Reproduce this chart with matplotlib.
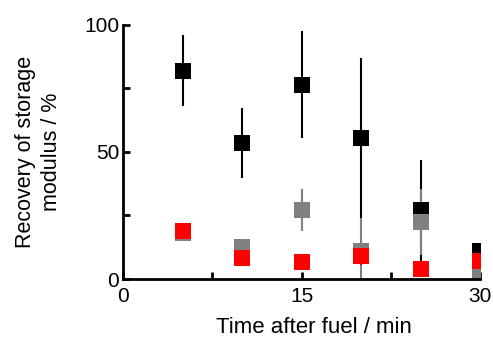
import numpy as np
import matplotlib
matplotlib.use("Agg")
import matplotlib.pyplot as plt
from matplotlib.ticker import MultipleLocator

plt.rcParams['font.family'] = ['Liberation Sans', 'DejaVu Sans']

time = [5, 10, 15, 20, 25, 30]

black_y = [82, 53.5, 76.5, 55.5, 27, 11]
black_err = [14, 13.7, 21, 31.5, 20, 0]

gray_y = [18, 12.5, 27, 11, 22.5, 1.5]
gray_err = [0, 0, 8.3, 13, 13, 0]

red_y = [19, 8.3, 6.8, 9, 4, 7]
red_err = [1.5, 0, 0, 3.5, 0, 0]

fig = plt.figure(figsize=(4.93, 3.55), dpi=100)
ax = fig.add_axes([0.25, 0.214, 0.724, 0.716])

for y, err, col in [(black_y, black_err, 'black'),
                    (gray_y, gray_err, '#808080'),
                    (red_y, red_err, '#ff0000')]:
    ax.errorbar(time, y, yerr=err, fmt='s', color=col, ecolor=col,
                markersize=11, elinewidth=1.5, capsize=2, capthick=1.5,
                markeredgewidth=0, clip_on=True)

ax.set_xlim(0, 30)
ax.set_ylim(0, 100)
ax.xaxis.set_major_locator(MultipleLocator(15))
ax.xaxis.set_minor_locator(MultipleLocator(7.5))
ax.yaxis.set_major_locator(MultipleLocator(50))
ax.yaxis.set_minor_locator(MultipleLocator(25))
ax.tick_params(which='both', direction='in', width=2, length=5, labelsize=15)
ax.tick_params(axis='x', which='major', pad=6)
ax.tick_params(axis='y', which='major', pad=3)
for s in ['top', 'right']:
    ax.spines[s].set_visible(False)
for s in ['left', 'bottom']:
    ax.spines[s].set_linewidth(2)

ax.set_xlabel('Time after fuel / min', fontsize=16)
ax.xaxis.set_label_coords(0.535, -0.15)
ax.set_ylabel('Recovery of storage\nmodulus / %', fontsize=15.5, labelpad=16,
              linespacing=1.3)

fig.savefig('out.png', dpi=100)
